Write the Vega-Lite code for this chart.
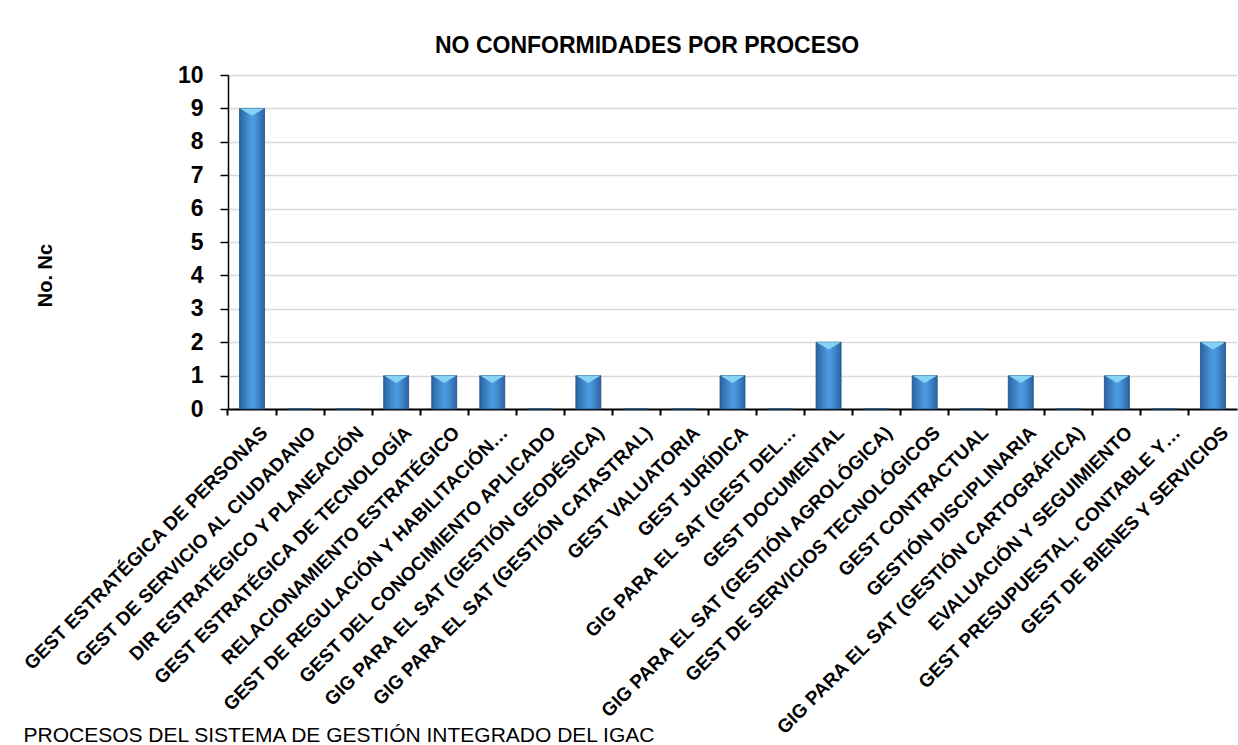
{
  "$schema": "https://vega.github.io/schema/vega-lite/v6.json",
  "autosize": {"type": "none"},
  "padding": {"left": 228, "top": 75, "right": 1, "bottom": 336},
  "width": 1009,
  "height": 334,
  "background": "white",
  "title": {
    "text": "NO CONFORMIDADES POR PROCESO",
    "anchor": "start",
    "frame": "group",
    "dx": 207,
    "dy": 6,
    "offset": 12,
    "font": "Liberation Sans",
    "fontSize": 23,
    "fontWeight": "bold",
    "color": "#000000"
  },
  "config": {
    "view": {"stroke": null},
    "font": "Liberation Sans"
  },
  "data": {
    "values": [
      {"proceso": "GEST ESTRATÉGICA DE PERSONAS", "nc": 9},
      {"proceso": "GEST DE SERVICIO AL CIUDADANO", "nc": 0},
      {"proceso": "DIR ESTRATÉGICO Y PLANEACIÓN", "nc": 0},
      {"proceso": "GEST ESTRATÉGICA DE TECNOLOGÍA", "nc": 1},
      {"proceso": "RELACIONAMIENTO ESTRATÉGICO", "nc": 1},
      {"proceso": "GEST DE REGULACIÓN Y HABILITACIÓN…", "nc": 1},
      {"proceso": "GEST DEL CONOCIMIENTO APLICADO", "nc": 0},
      {"proceso": "GIG PARA EL SAT (GESTIÓN GEODÉSICA)", "nc": 1},
      {"proceso": "GIG PARA EL SAT (GESTIÓN CATASTRAL)", "nc": 0},
      {"proceso": "GEST VALUATORIA", "nc": 0},
      {"proceso": "GEST JURÍDICA", "nc": 1},
      {"proceso": "GIG PARA EL SAT (GEST DEL…", "nc": 0},
      {"proceso": "GEST DOCUMENTAL", "nc": 2},
      {"proceso": "GIG PARA EL SAT (GESTIÓN AGROLÓGICA)", "nc": 0},
      {"proceso": "GEST DE SERVICIOS TECNOLÓGICOS", "nc": 1},
      {"proceso": "GEST CONTRACTUAL", "nc": 0},
      {"proceso": "GESTIÓN DISCIPLINARIA", "nc": 1},
      {"proceso": "GIG PARA EL SAT (GESTIÓN CARTOGRÁFICA)", "nc": 0},
      {"proceso": "EVALUACIÓN Y SEGUIMIENTO", "nc": 1},
      {"proceso": "GEST PRESUPUESTAL, CONTABLE Y…", "nc": 0},
      {"proceso": "GEST DE BIENES Y SERVICIOS", "nc": 2}
    ]
  },
  "encoding": {
    "x": {
      "field": "proceso",
      "type": "nominal",
      "sort": null,
      "scale": {"paddingInner": 0, "paddingOuter": 0},
      "axis": {
        "title": "PROCESOS DEL SISTEMA DE GESTIÓN INTEGRADO DEL IGAC",
        "titleFont": "Liberation Sans",
        "titleFontSize": 21,
        "titleFontWeight": "normal",
        "titleColor": "#000000",
        "titleAlign": "left",
        "titleAnchor": null,
        "titleX": -205,
        "titleY": 332,
        "titleBaseline": "alphabetic",
        "bandPosition": 0,
        "labelOffset": 6,
        "labelAngle": -45,
        "labelFont": "Liberation Sans",
        "labelFontSize": 19,
        "labelFontWeight": "bold",
        "labelColor": "#000000",
        "labelPadding": 8,
        "labelLimit": 700,
        "labelOverlap": false,
        "domainColor": "#000000",
        "domainWidth": 2,
        "tickColor": "#000000",
        "tickWidth": 2,
        "tickSize": 6,
        "grid": false
      }
    },
    "y": {
      "field": "nc",
      "type": "quantitative",
      "scale": {"domain": [0, 10], "nice": false},
      "axis": {
        "title": "No. Nc",
        "titleFont": "Liberation Sans",
        "titleFontSize": 20,
        "titleFontWeight": "bold",
        "titleColor": "#000000",
        "titleX": -173,
        "titleY": 200,
        "titleAlign": "center",
        "titleAnchor": null,
        "values": [0, 1, 2, 3, 4, 5, 6, 7, 8, 9, 10],
        "labelFont": "Liberation Sans",
        "labelFontSize": 23,
        "labelFontWeight": "bold",
        "labelColor": "#000000",
        "labelPadding": 17,
        "domainColor": "#000000",
        "domainWidth": 1.5,
        "tickColor": "#000000",
        "tickWidth": 1.5,
        "tickSize": 8,
        "grid": true,
        "gridColor": "#d9d9d9",
        "gridWidth": 1.5
      }
    }
  },
  "layer": [
    {
      "mark": {
        "type": "bar",
        "width": {"band": 0.52},
        "color": {
          "gradient": "linear",
          "x1": 0, "y1": 0, "x2": 1, "y2": 0,
          "stops": [
            {"offset": 0, "color": "#2a64a3"},
            {"offset": 0.45, "color": "#4a98de"},
            {"offset": 0.6, "color": "#4a98de"},
            {"offset": 1, "color": "#2a64a3"}
          ]
        },
        "stroke": "#1f4d80",
        "strokeWidth": 0.8
      }
    },
    {
      "transform": [{"filter": "datum.nc > 0"}],
      "mark": {
        "type": "point",
        "shape": "M-1,0L1,0L0,0.6Z",
        "filled": true,
        "opacity": 1,
        "color": "#86d3f8",
        "size": 600,
        "strokeWidth": 0
      }
    }
  ]
}
